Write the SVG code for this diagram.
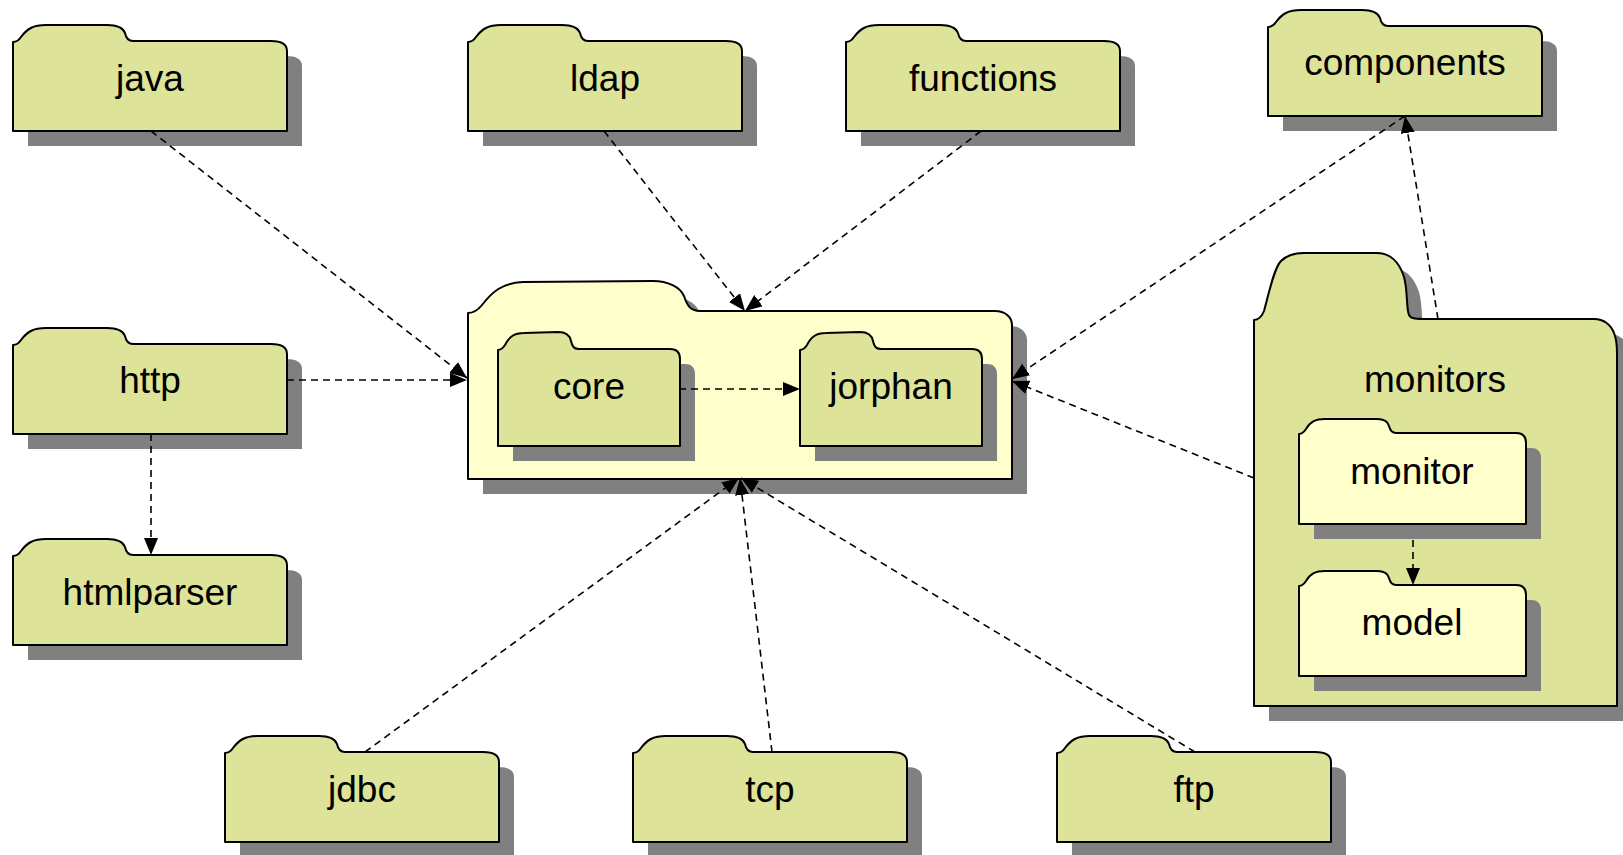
<svg xmlns="http://www.w3.org/2000/svg" xmlns:xlink="http://www.w3.org/1999/xlink" width="1623" height="855" viewBox="0 0 1623 855">
<style>
.g{fill:#DDE398;stroke:#000;stroke-width:2;stroke-linejoin:round}
.y{fill:#FFFFCC;stroke:#000;stroke-width:2;stroke-linejoin:round}
.sh{fill:#808080;stroke:none}
.t{font-family:"Liberation Sans",Arial,sans-serif;font-size:37px;fill:#000;text-anchor:middle}
.c{fill:none;stroke:#000;stroke-width:1.6;stroke-dasharray:7,5}
</style>
<defs>
<path id="fs" d="M0,17 C3,17 6,15 8,12 C14,4 20,0 33,0 L94,0 C105,0 110,3 112,8 C113,13 115,16 120,16 L258,16 C268,16 274,19 274,26 L274,106 L0,106 Z"/>
<path id="fm" d="M0,18 C3,18 5,16 7,13 C11,5 16,1 26,1 L60,0 C69,0 72,4 73,9 C74,14 76,17 80,17 L172,17 C178,17 182,20 182,27 L182,114 L0,114 Z"/>
<path id="fy" d="M0,15 C3,15 5,13 7,10 C11,3 16,0 26,0 L78,0 C86,0 89,3 90,7 C91,11 93,14 97,14 L217,14 C223,14 227,17 227,24 L227,105 L0,105 Z"/>
<path id="fc" d="M0,32 C5,32 10,29 14,24 C24,11 34,2 55,1 L185,0 C200,0 212,6 216,15 C219,24 222,30 232,30 L527,30 C537,30 544,36 544,44 L544,198 L0,198 Z"/>
<path id="fb" d="M0,67 C5,67 8,63 10,58 C15,40 20,15 27,8 C32,3 38,0 50,0 L123,0 C135,0 145,8 150,24 C154,38 152,55 155,62 C157,66 162,66 175,66 L340,66 C350,66 357,72 360,80 C362,85 363,90 363,100 L363,453 L0,453 Z"/>
<marker id="ah" markerUnits="userSpaceOnUse" markerWidth="18" markerHeight="15" refX="17" refY="7" orient="auto" viewBox="0 0 18 15">
<path d="M0,0 L17,7 L0,14 Z" fill="#000"/>
</marker>
</defs>
<rect width="1623" height="855" fill="#fff"/>

<g id="central">
<use xlink:href="#fc" class="sh" transform="translate(483,296)"/>
<use xlink:href="#fc" class="y" transform="translate(468,281)"/>
</g>
<g id="core">
<use xlink:href="#fm" class="sh" transform="translate(513,347)"/>
<use xlink:href="#fm" class="g" transform="translate(498,332)"/>
<text class="t" x="589" y="399">core</text>
</g>
<g id="jorphan">
<use xlink:href="#fm" class="sh" transform="translate(815,347)"/>
<use xlink:href="#fm" class="g" transform="translate(800,332)"/>
<text class="t" x="891" y="399">jorphan</text>
</g>
<g id="monitors">
<use xlink:href="#fb" class="sh" transform="translate(1269,268)"/>
<use xlink:href="#fb" class="g" transform="translate(1254,253)"/>
<text class="t" x="1435" y="392">monitors</text>
</g>
<g id="monitor">
<use xlink:href="#fy" class="sh" transform="translate(1314,434)"/>
<use xlink:href="#fy" class="y" transform="translate(1299,419)"/>
<text class="t" x="1412" y="484">monitor</text>
</g>
<g id="model">
<use xlink:href="#fy" class="sh" transform="translate(1314,586)"/>
<use xlink:href="#fy" class="y" transform="translate(1299,571)"/>
<text class="t" x="1412" y="635">model</text>
</g>
<g id="java">
<use xlink:href="#fs" class="sh" transform="translate(28,40)"/>
<use xlink:href="#fs" class="g" transform="translate(13,25)"/>
<text class="t" x="150" y="91">java</text>
</g>
<g id="ldap">
<use xlink:href="#fs" class="sh" transform="translate(483,40)"/>
<use xlink:href="#fs" class="g" transform="translate(468,25)"/>
<text class="t" x="605" y="91">ldap</text>
</g>
<g id="functions">
<use xlink:href="#fs" class="sh" transform="translate(861,40)"/>
<use xlink:href="#fs" class="g" transform="translate(846,25)"/>
<text class="t" x="983" y="91">functions</text>
</g>
<g id="components">
<use xlink:href="#fs" class="sh" transform="translate(1283,25)"/>
<use xlink:href="#fs" class="g" transform="translate(1268,10)"/>
<text class="t" x="1405" y="75">components</text>
</g>
<g id="http">
<use xlink:href="#fs" class="sh" transform="translate(28,343)"/>
<use xlink:href="#fs" class="g" transform="translate(13,328)"/>
<text class="t" x="150" y="393">http</text>
</g>
<g id="htmlparser">
<use xlink:href="#fs" class="sh" transform="translate(28,554)"/>
<use xlink:href="#fs" class="g" transform="translate(13,539)"/>
<text class="t" x="150" y="605">htmlparser</text>
</g>
<g id="jdbc">
<use xlink:href="#fs" class="sh" transform="translate(240,751)"/>
<use xlink:href="#fs" class="g" transform="translate(225,736)"/>
<text class="t" x="362" y="802">jdbc</text>
</g>
<g id="tcp">
<use xlink:href="#fs" class="sh" transform="translate(648,751)"/>
<use xlink:href="#fs" class="g" transform="translate(633,736)"/>
<text class="t" x="770" y="802">tcp</text>
</g>
<g id="ftp">
<use xlink:href="#fs" class="sh" transform="translate(1072,751)"/>
<use xlink:href="#fs" class="g" transform="translate(1057,736)"/>
<text class="t" x="1194" y="802">ftp</text>
</g>

<g id="connectors">
<line class="c" x1="151" y1="131" x2="467" y2="378" marker-end="url(#ah)"/>
<line class="c" x1="287" y1="380" x2="467" y2="380" marker-end="url(#ah)"/>
<line class="c" x1="151" y1="434" x2="151" y2="555" marker-end="url(#ah)"/>
<line class="c" x1="604" y1="131" x2="745" y2="311" marker-end="url(#ah)"/>
<line class="c" x1="981" y1="131" x2="745" y2="311" marker-end="url(#ah)"/>
<line class="c" x1="679" y1="389" x2="800" y2="389" marker-end="url(#ah)"/>
<line class="c" x1="1405" y1="116" x2="1012" y2="379" marker-end="url(#ah)"/>
<line class="c" x1="1254" y1="478" x2="1012" y2="381" marker-end="url(#ah)"/>
<line class="c" x1="1438" y1="319" x2="1405" y2="116" marker-end="url(#ah)"/>
<line class="c" x1="1413" y1="540" x2="1413" y2="585" marker-end="url(#ah)"/>
<line class="c" x1="365" y1="752" x2="739" y2="478" marker-end="url(#ah)"/>
<line class="c" x1="772" y1="752" x2="740" y2="478" marker-end="url(#ah)"/>
<line class="c" x1="1195" y1="752" x2="741" y2="478" marker-end="url(#ah)"/>
</g>
</svg>
